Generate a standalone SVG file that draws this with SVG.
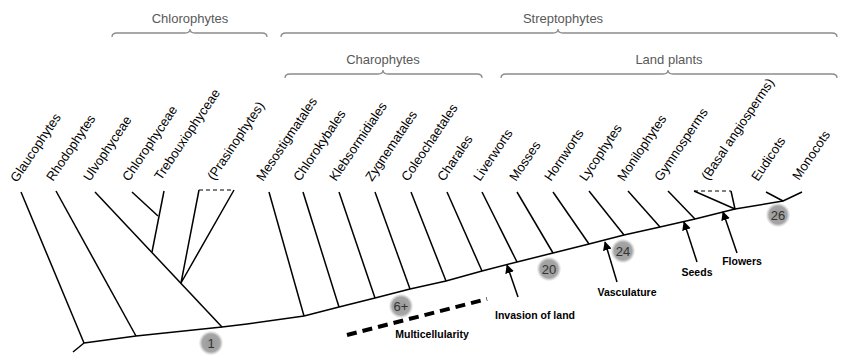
<svg xmlns="http://www.w3.org/2000/svg" width="850" height="364" viewBox="0 0 850 364">
<defs>
<style>
.br{fill:none;stroke:#8c8c8c;stroke-width:1.3}
.bt{font-family:"Liberation Sans",Arial,sans-serif;font-size:13px;fill:#595959;text-anchor:middle}
.lf{font-family:"Liberation Sans",Arial,sans-serif;font-size:13px;fill:#000}
.ln{fill:none;stroke:#000;stroke-width:1.5;stroke-linejoin:round}
.ds{fill:none;stroke:#000;stroke-width:1.2;stroke-dasharray:4,3}
.ar{fill:none;stroke:#000;stroke-width:1.5;marker-end:url(#ah)}
.an{font-family:"Liberation Sans",Arial,sans-serif;font-size:10.5px;font-weight:bold;fill:#000;text-anchor:middle}
.cn{font-family:"Liberation Sans",Arial,sans-serif;font-size:13px;fill:#333;text-anchor:middle}
</style>
<marker id="ah" viewBox="0 0 10 10" refX="9" refY="5" markerWidth="9" markerHeight="9" markerUnits="userSpaceOnUse" orient="auto">
<path d="M0,0 L10,5 L0,10 z" fill="#000"/>
</marker>
<radialGradient id="cg">
<stop offset="0" stop-color="#9a9a9a"/>
<stop offset="0.75" stop-color="#a6a6a6"/>
<stop offset="1" stop-color="#d8d8d8" stop-opacity="0.3"/>
</radialGradient>
</defs>
<rect width="850" height="364" fill="#fff"/>

<g id="brackets">
<g id="chlorophytes">
<path class="br" d="M112,37 Q112,33 117,33 L185,33 Q190,33 190,29 Q190,33 195,33 L262,33 Q267,33 267,37"/>
<text class="bt" x="190" y="23">Chlorophytes</text>
</g>
<g id="streptophytes">
<path class="br" d="M281,37 Q281,33 286,33 L553,33 Q558,33 558,29 Q558,33 563,33 L832,33 Q837,33 837,37"/>
<text class="bt" x="563" y="23">Streptophytes</text>
</g>
<g id="charophytes">
<path class="br" d="M285,78 Q285,74 290,74 L378,74 Q383,74 383,70 Q383,74 388,74 L477,74 Q482,74 482,78"/>
<text class="bt" x="383" y="64">Charophytes</text>
</g>
<g id="landplants">
<path class="br" d="M501,78 Q501,74 506,74 L663,74 Q668,74 668,70 Q668,74 673,74 L832,74 Q837,74 837,78"/>
<text class="bt" x="669" y="64">Land plants</text>
</g>
</g>

<g id="labels">
<g id="glaucophytes"><text class="lf" transform="translate(17,183) rotate(-56)">Glaucophytes</text></g>
<g id="rhodophytes"><text class="lf" transform="translate(53,182) rotate(-56)">Rhodophytes</text></g>
<g id="ulvophyceae"><text class="lf" transform="translate(90,182) rotate(-56)">Ulvophyceae</text></g>
<g id="chlorophyceae"><text class="lf" transform="translate(129,182) rotate(-56)">Chlorophyceae</text></g>
<g id="trebouxiophyceae"><text class="lf" transform="translate(161,181) rotate(-56)">Trebouxiophyceae</text></g>
<g id="prasinophytes"><text class="lf" transform="translate(214,181) rotate(-56)">(Prasinophytes)</text></g>
<g id="mesostigmatales"><text class="lf" transform="translate(263,182) rotate(-56)">Mesostigmatales</text></g>
<g id="chlorokybales"><text class="lf" transform="translate(300,182) rotate(-56)">Chlorokybales</text></g>
<g id="klebsormidiales"><text class="lf" transform="translate(336,182) rotate(-56)">Klebsormidiales</text></g>
<g id="zygnematales"><text class="lf" transform="translate(372,182) rotate(-56)">Zygnematales</text></g>
<g id="coleochaetales"><text class="lf" transform="translate(408,182) rotate(-56)">Coleochaetales</text></g>
<g id="charales"><text class="lf" transform="translate(444,182) rotate(-56)">Charales</text></g>
<g id="liverworts"><text class="lf" transform="translate(480,182) rotate(-56)">Liverworts</text></g>
<g id="mosses"><text class="lf" transform="translate(516,182) rotate(-56)">Mosses</text></g>
<g id="hornworts"><text class="lf" transform="translate(551,182) rotate(-56)">Hornworts</text></g>
<g id="lycophytes"><text class="lf" transform="translate(586,182) rotate(-56)">Lycophytes</text></g>
<g id="monilophytes"><text class="lf" transform="translate(624,182) rotate(-56)">Monilophytes</text></g>
<g id="gymnosperms"><text class="lf" transform="translate(661,182) rotate(-56)">Gymnosperms</text></g>
<g id="basal-angiosperms"><text class="lf" transform="translate(708,181) rotate(-56)">(Basal angiosperms)</text></g>
<g id="eudicots"><text class="lf" transform="translate(758,182) rotate(-56)">Eudicots</text></g>
<g id="monocots"><text class="lf" transform="translate(799,181) rotate(-56)">Monocots</text></g>
</g>

<g id="connectors">
<path class="ln" d="M73,352 L84,343 L136,336 L222,327 L247,324 L304,316 L339,307 L375,298 L410,289 L446,281 L482,271 L517,262 L553,253 L589,244 L624,235 L660,227 L695,219 L735,209 L783,201"/>
<path class="ln" d="M21,192 L84,343"/>
<path class="ln" d="M56,191 L136,336"/>
<path class="ln" d="M95,192 L222,327"/>
<path class="ln" d="M132,192 L158,216"/>
<path class="ln" d="M164,191 L152,252"/>
<path class="ln" d="M199,190 L181,283 L234,190"/>
<path class="ds" d="M199,190 L234,190"/>
<path class="ln" d="M269,192 L304,316"/>
<path class="ln" d="M303,192 L339,307"/>
<path class="ln" d="M339,192 L375,298"/>
<path class="ln" d="M375,192 L410,289"/>
<path class="ln" d="M411,192 L446,281"/>
<path class="ln" d="M447,192 L482,271"/>
<path class="ln" d="M482,192 L517,262"/>
<path class="ln" d="M517,192 L553,253"/>
<path class="ln" d="M553,192 L589,244"/>
<path class="ln" d="M589,191 L624,235"/>
<path class="ln" d="M628,191 L660,227"/>
<path class="ln" d="M668,191 L695,219"/>
<path class="ln" d="M694,191 L735,209 L731,191"/>
<path class="ds" d="M694,191 L731,191"/>
<path class="ln" d="M766,192 L783,201 L802,192"/>
</g>

<g id="events">
<g id="multicellularity">
<path d="M347,335 L487,299" fill="none" stroke="#000" stroke-width="4" stroke-dasharray="10,6"/>
<text class="an" x="432" y="338">Multicellularity</text>
</g>
<g id="invasion">
<path class="ar" d="M518,297 L507,265"/>
<text class="an" x="535" y="319">Invasion of land</text>
</g>
<g id="vasculature">
<path class="ar" d="M617,282 L605,242"/>
<text class="an" x="627" y="296">Vasculature</text>
</g>
<g id="seeds">
<path class="ar" d="M697,262 L684,222"/>
<text class="an" x="697" y="276">Seeds</text>
</g>
<g id="flowers">
<path class="ar" d="M737,253 L723,212"/>
<text class="an" x="742" y="265">Flowers</text>
</g>
</g>

<g id="counts">
<g id="c1"><circle cx="211" cy="343" r="12" fill="url(#cg)"/><text class="cn" x="211" y="348">1</text></g>
<g id="c6"><circle cx="401" cy="306" r="12" fill="url(#cg)"/><text class="cn" x="401" y="311">6+</text></g>
<g id="c20"><circle cx="549" cy="269" r="12" fill="url(#cg)"/><text class="cn" x="549" y="274">20</text></g>
<g id="c24"><circle cx="623" cy="251" r="12" fill="url(#cg)"/><text class="cn" x="623" y="256">24</text></g>
<g id="c26"><circle cx="778" cy="215" r="12" fill="url(#cg)"/><text class="cn" x="778" y="220">26</text></g>
</g>
</svg>
